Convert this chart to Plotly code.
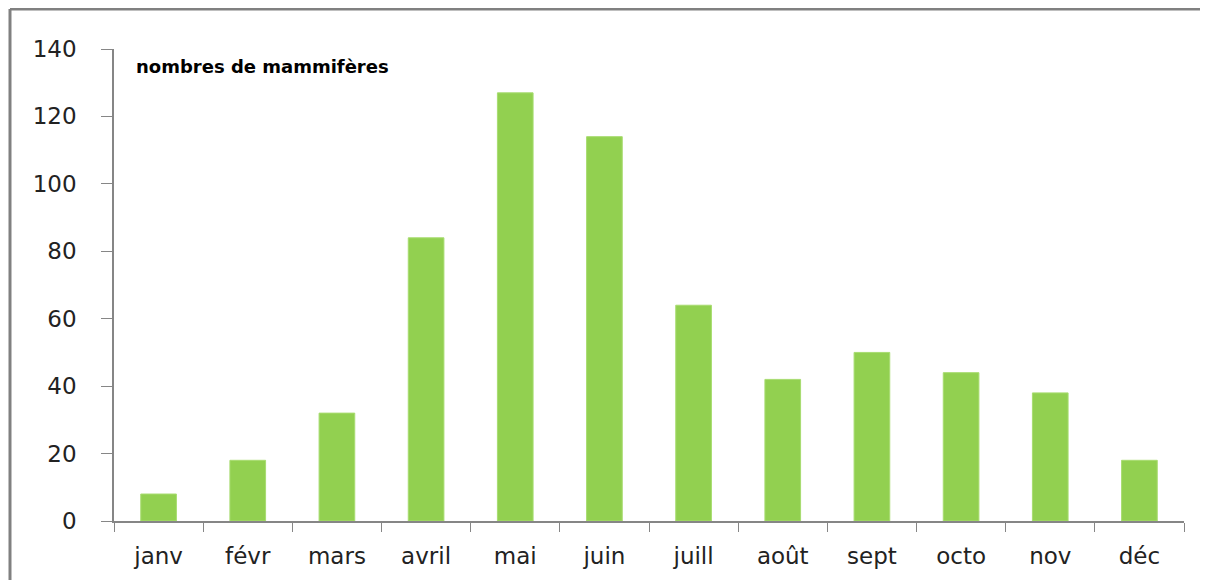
import plotly.graph_objects as go

mois = ["janv", "févr", "mars", "avril", "mai", "juin",
        "juill", "août", "sept", "octo", "nov", "déc"]
mammiferes = [8, 18, 32, 84, 127, 114, 64, 42, 50, 44, 38, 18]
y_ticks = [0, 20, 40, 60, 80, 100, 120, 140]

axis_grey = "#868686"

fig = go.Figure()
fig.add_trace(go.Bar(x=mois, y=mammiferes, marker_color="#92D050",
                     marker_line_color="#A8DC70", marker_line_width=1))

# cadre du graphique (depasse a droite et en bas)
fig.update_layout(shapes=[
    dict(type="line", xref="paper", yref="paper", x0=-0.0972, x1=1.1, y0=1.0847, y1=1.0847,
         line=dict(color="#808080", width=3)),
    dict(type="line", xref="paper", yref="paper", x0=-0.0972, x1=-0.0972, y0=1.0847, y1=-0.25,
         line=dict(color="#808080", width=3)),
])

fig.add_annotation(text="<b>nombres de mammifères</b>", xref="paper", yref="paper",
                   x=0.019, y=0.962, xanchor="left", yanchor="middle", showarrow=False,
                   font=dict(family="DejaVu Sans", size=18, color="#000000"))

# la page ajoute 8px de marge au corps
fig.update_layout(
    width=1200, height=572,
    margin=dict(l=106, r=24, t=41, b=59),
    plot_bgcolor="white", paper_bgcolor="white",
    bargap=0.6, showlegend=False,
    font=dict(family="DejaVu Sans", size=23, color="#222222"),
)
fig.update_xaxes(showline=True, linecolor=axis_grey, linewidth=1.5,
                 ticks="outside", tickson="boundaries", ticklen=9, tickcolor=axis_grey,
                 showgrid=False, ticklabelstandoff=14)
fig.update_yaxes(range=[0, 140], tickvals=y_ticks, showline=True, linecolor=axis_grey,
                 linewidth=1.5, ticks="outside", ticklen=11, tickcolor=axis_grey,
                 showgrid=False, zeroline=False, ticklabelstandoff=20)

fig.write_html("out.html")
